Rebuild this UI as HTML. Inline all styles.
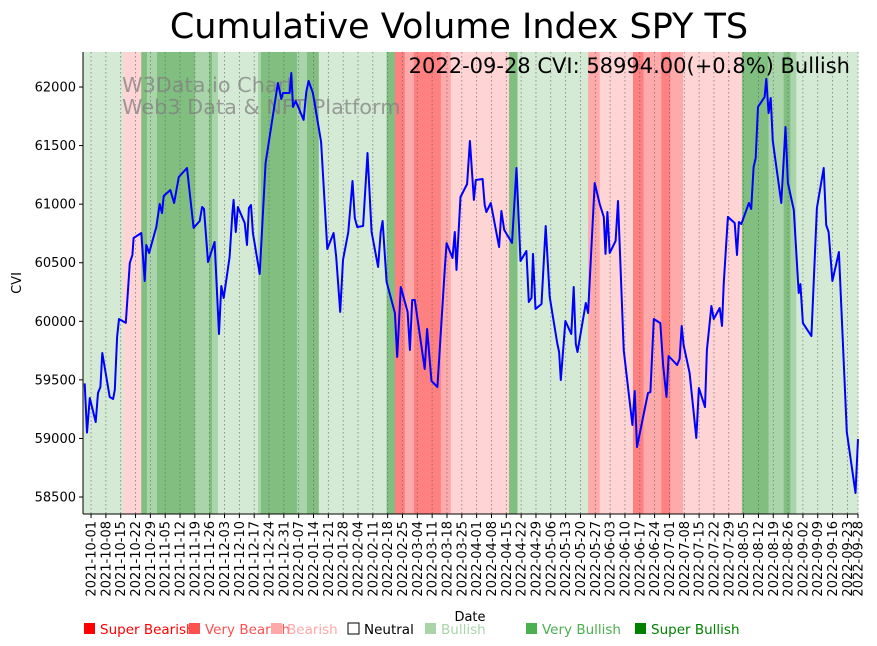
<!DOCTYPE html>
<html><head><meta charset="utf-8">
<style>
body{margin:0;background:#fff;}
svg{display:block;font-family:"DejaVu Sans","Liberation Sans",sans-serif;}
</style></head>
<body>
<svg id="chart" width="877" height="646" viewBox="0 0 877 646">
<text x="459" y="38" font-size="35" text-anchor="middle" fill="#000">Cumulative Volume Index SPY TS</text>
<g id="bands"></g>
<g id="grid"></g>
<g fill="#808080" fill-opacity="0.75" font-size="20.8">
<text x="122" y="92">W3Data.io Chart</text>
<text x="122" y="114">Web3 Data &amp; NFT Platform</text>
</g>
<path id="line" fill="none" stroke="#0000ff" stroke-width="2" stroke-linejoin="round"/>
<text x="850" y="73" font-size="21" text-anchor="end" fill="#000">2022-09-28 CVI: 58994.00(+0.8%) Bullish</text>
<g id="yaxis"></g>
<g id="xaxis"></g>
<line x1="83" y1="52" x2="83" y2="514" stroke="#000" stroke-width="1"/>
<line x1="83" y1="514" x2="858" y2="514" stroke="#000" stroke-width="1"/>
<text x="470" y="621" font-size="13" text-anchor="middle">Date</text>
<text transform="translate(21,283) rotate(-90)" font-size="13" text-anchor="middle">CVI</text>
<g id="legend" font-size="13.5"></g>
</svg>
<script>
// days since 2021-10-01
const dayIdx = [-3.0,-1.9,-0.6,2.2,3.3,4.4,5.3,8.8,10.4,11.2,12.3,13.2,16.4,18.3,19.5,20.1,23.7,25.3,26.1,27.4,30.8,32.4,33.5,34.3,37.4,39.2,41.4,45.3,48.4,51.3,52.4,53.3,55.2,58.3,60.4,61.5,62.6,65.4,66.7,67.3,68.3,69.3,72.5,73.6,74.5,75.5,76.4,79.6,82.4,88.2,89.8,90.6,93.7,94.5,95.3,96.6,100.3,101.6,102.7,104.7,108.6,111.5,114.5,115.7,117.6,118.9,121.4,123.4,124.5,125.6,128.4,130.5,132.4,135.5,136.7,137.6,139.5,143.4,144.5,146.2,149.4,150.5,151.6,152.8,157.5,158.6,160.7,163.5,167.0,167.8,170.6,171.7,172.5,174.4,177.5,178.8,180.7,181.6,184.8,185.8,186.6,188.7,192.6,193.7,195.0,198.7,200.8,202.7,205.5,206.6,207.9,208.6,209.8,212.6,214.6,216.5,220.0,220.9,221.7,223.9,226.7,227.8,228.8,229.6,233.5,234.6,237.7,240.1,242.0,242.8,243.7,244.8,247.6,248.7,251.4,255.5,256.6,257.7,262.9,264.0,265.6,268.7,270.0,271.6,272.6,276.6,277.8,278.8,279.7,282.5,285.7,286.9,289.8,290.7,292.8,293.9,296.7,297.8,298.6,300.6,303.8,304.9,305.8,306.9,310.5,311.6,312.7,313.7,314.8,317.9,318.7,319.8,320.8,321.8,325.8,327.8,328.9,331.7,334.0,334.8,336.0,340.0,342.6,345.8,347.0,348.1,349.9,353.0,356.7,360.8,362];
const cviValues = [59470,59050,59345,59140,59388,59439,59729,59354,59337,59414,59866,60020,59986,60498,60566,60711,60754,60344,60651,60583,60805,61001,60925,61070,61121,61010,61232,61309,60797,60856,60976,60959,60506,60677,59892,60301,60199,60549,60925,61036,60762,60976,60839,60651,60967,60993,60754,60404,61351,62034,61898,61949,61949,62120,61830,61881,61719,61958,62052,61949,61531,60617,60754,60549,60080,60523,60762,61198,60882,60805,60814,61437,60762,60464,60762,60856,60336,60071,59695,60293,60080,59755,60182,60182,59593,59934,59490,59439,60464,60668,60540,60762,60438,61061,61172,61539,61036,61206,61215,60993,60933,61010,60634,60942,60780,60669,61309,60515,60600,60165,60199,60575,60105,60148,60814,60208,59815,59738,59499,60003,59892,60293,59806,59738,60156,60071,61181,61001,60890,60575,60933,60583,60686,61027,59755,59115,59405,58927,59388,59396,60020,59985,59627,59354,59704,59627,59678,59960,59798,59559,59004,59431,59268,59755,60131,60020,60114,59960,60318,60891,60839,60566,60848,60831,61010,60959,61317,61394,61830,61915,62069,61778,61906,61539,61010,61659,61181,60950,60242,60318,59985,59874,60967,61309,60822,60763,60344,60592,59055,58534,58994];
const bandStart = [-3.8,15.1,23.7,26.4,31.1,49.1,55.7,57.1,59.9,78.8,80.2,97.2,101.9,107.5,139.5,143.4,148.1,152.4,155.2,165.1,169.8,197.3,201.3,234.6,240.1,255.8,260.8,269.2,273.4,279.4,307.2,319.8,326.9,330.1,332.9];
const bandEnd = [15.1,23.7,26.4,31.1,49.1,55.7,57.1,59.9,78.8,80.2,97.2,101.9,107.5,139.5,143.4,148.1,152.4,155.2,165.1,169.8,197.3,201.3,234.6,240.1,255.8,260.8,269.2,273.4,279.4,307.2,319.8,326.9,330.1,332.9,362];
const bandLevel = [1,-1,3,2,3,2,3,2,1,2,3,2,3,1,3,-3,-2,-3,-3,-2,-1,3,1,-2,-1,-3,-2,-3,-2,-1,3,2,3,2,1];
const yTicks = [58500,59000,59500,60000,60500,61000,61500,62000];
const legendLabels = ["Super Bearish","Very Bearish","Bearish","Neutral","Bullish","Very Bullish","Super Bullish"];
const legendX = [83,188,270,347,424,525,634];

const NS="http://www.w3.org/2000/svg";
const X0=83,X1=858,Y0=52,Y1=514;
const dMin=-3.8,dMax=362;
const vMin=58355,vMax=62299;
function xs(d){return X0+(d-dMin)/(dMax-dMin)*(X1-X0);}
function ys(v){return Y1-(v-vMin)/(vMax-vMin)*(Y1-Y0);}
function mk(t,a,p){const e=document.createElementNS(NS,t);for(const k in a)e.setAttribute(k,a[k]);p.appendChild(e);return e;}
const bandColor={"1":"#d4ead4","2":"#aad5aa","3":"#80bf80","-1":"#ffd4d4","-2":"#ffaaaa","-3":"#ff8080"};
const bandsG=document.getElementById('bands');
for(let i=0;i<bandStart.length;i++){
  const r=mk('rect',{x:xs(bandStart[i]),y:Y0,width:Math.max(0,xs(bandEnd[i])-xs(bandStart[i])+0.3),height:Y1-Y0,fill:bandColor[bandLevel[i]]},bandsG);
  
  
}
const gridG=document.getElementById('grid'),xa=document.getElementById('xaxis');
const start=new Date(Date.UTC(2021,9,1));
const tickDays=[];for(let d=0;d<=357;d+=7)tickDays.push(d);tickDays.push(362);
function fmt(d){const t=new Date(start.getTime()+d*86400000);return t.toISOString().slice(0,10);}
tickDays.forEach(d=>{
  const x=xs(d);
  const g=mk('line',{x1:x,y1:Y0,x2:x,y2:Y1,stroke:'#555',"stroke-width":0.8,"stroke-dasharray":"1.5,2.5","stroke-opacity":0.7},gridG);
  
  
  const tk=mk('line',{x1:x,y1:Y1,x2:x,y2:Y1+4,stroke:'#000'},xa);
  
  
  const tx=mk('text',{transform:`translate(${x+4.5},${Y1+7}) rotate(-90)`,"font-size":13,"text-anchor":"end"},xa);
  tx.textContent=fmt(d);
  
  
});
const ya=document.getElementById('yaxis');
yTicks.forEach(v=>{
  const y=ys(v);
  const tk=mk('line',{x1:X0-4,y1:y,x2:X0,y2:y,stroke:'#000'},ya);
  
  
  const t=mk('text',{x:X0-7,y:y+4.5,"font-size":13,"text-anchor":"end"},ya);
  t.textContent=v;
  
  
});
let dstr='';
for(let i=0;i<dayIdx.length;i++){dstr+=(i?'L':'M')+xs(dayIdx[i]).toFixed(1)+','+ys(cviValues[i]).toFixed(1);}
document.getElementById('line').setAttribute('d',dstr);
const lg=document.getElementById('legend');
const legendColors=["#ff0000","#ff5050","#ffa8a8","none","#a8d4a8","#4caf50","#008000"];
const textColors=["#ff0000","#ff5050","#ffa8a8","#000000","#a8d4a8","#4caf50","#008000"];
legendLabels.forEach((l,i)=>{
  const x=legendX[i];
  const r=mk('rect',{x:x+1,y:623,width:11,height:11,fill:legendColors[i],stroke:i==3?'#000':'none'},lg);
  
  
  const t=mk('text',{x:x+17,y:634,fill:textColors[i]},lg);
  t.textContent=l;
  
  
});
</script>
</body></html>
